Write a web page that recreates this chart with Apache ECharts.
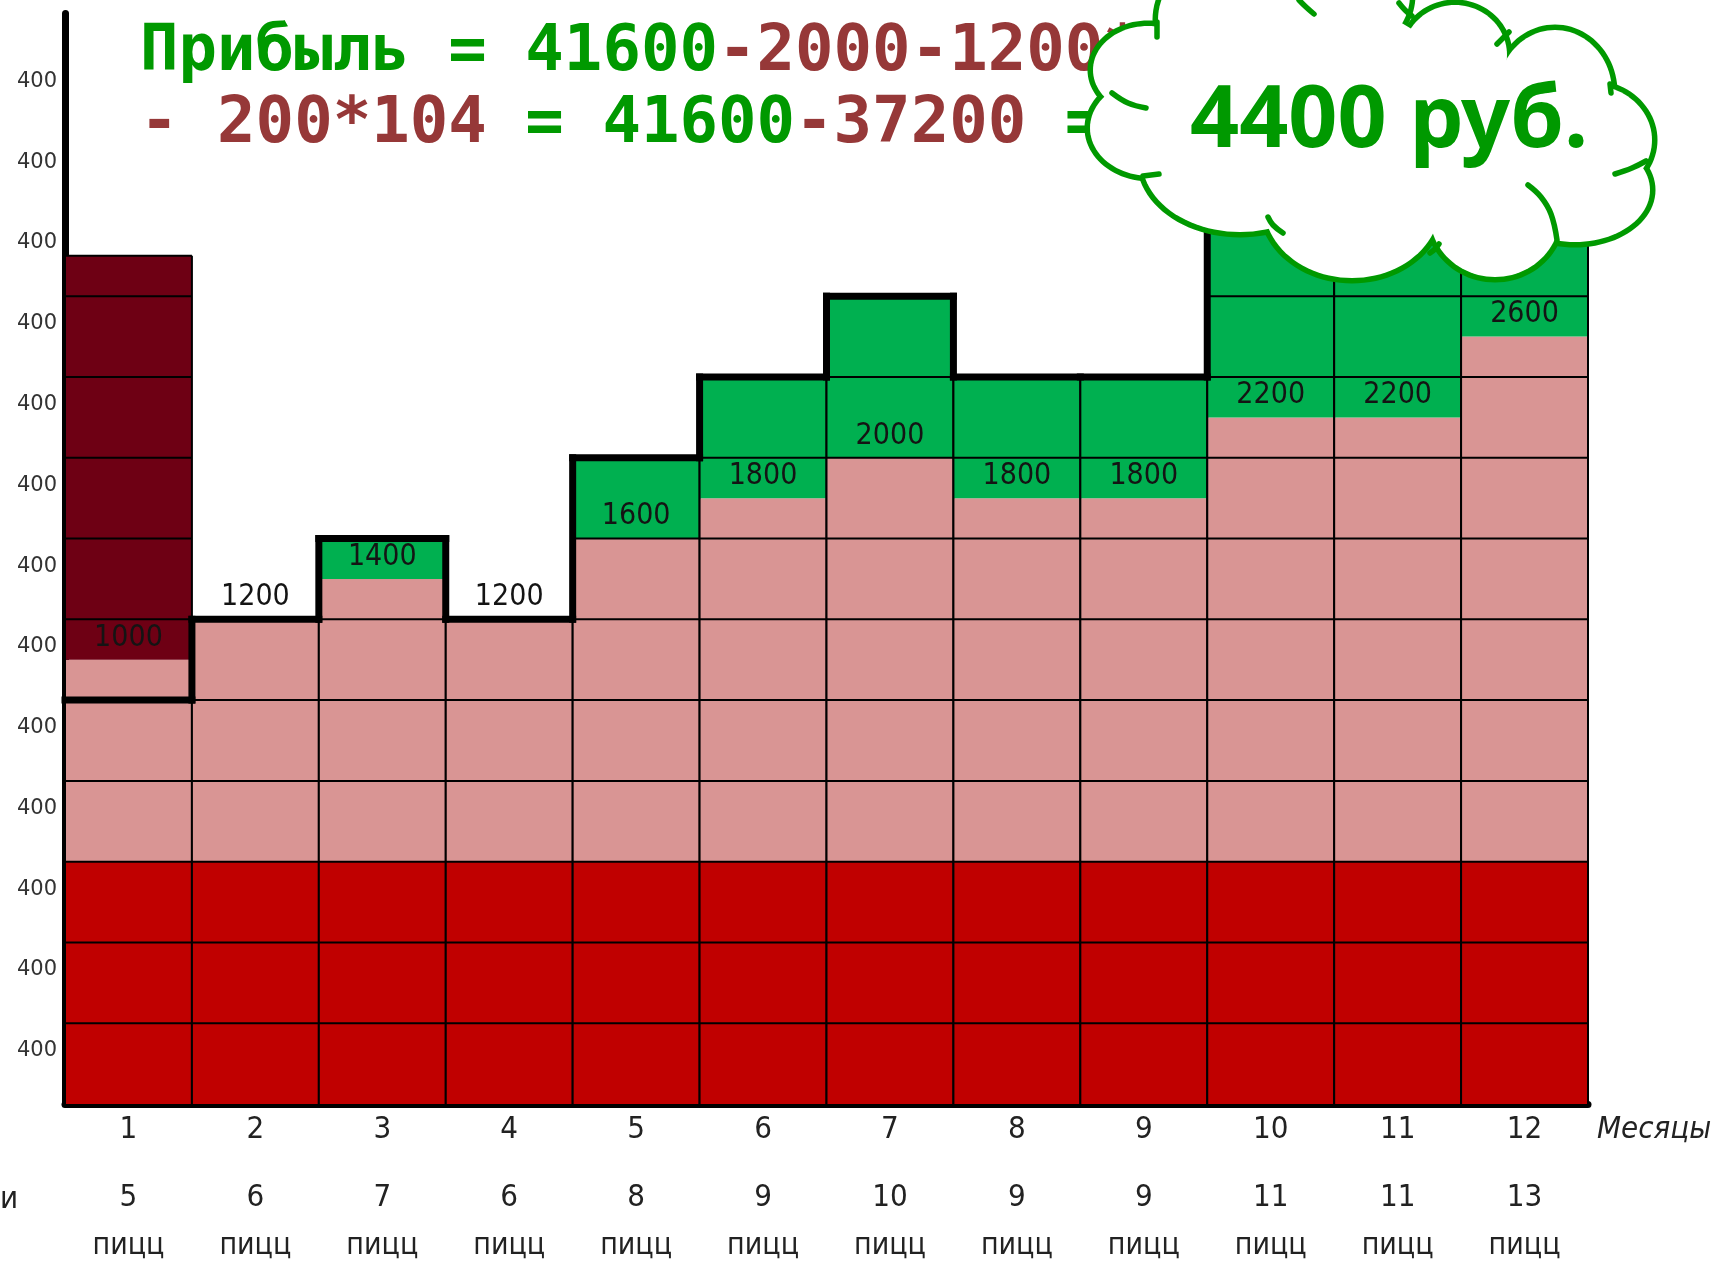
<!DOCTYPE html>
<html>
<head>
<meta charset="utf-8">
<script src="https://cdn.jsdelivr.net/npm/echarts/dist/echarts.min.js"></script>
<style>
  html, body { margin: 0; padding: 0; background: #ffffff; }
  #chart { width: 1715px; height: 1261px; }
</style>
</head>
<body>
<div id="chart"></div>
<script>
// ---------------- data ----------------
const months = ['1', '2', '3', '4', '5', '6', '7', '8', '9', '10', '11', '12'];
const pizzas = ['5', '6', '7', '6', '8', '9', '10', '9', '9', '11', '11', '13'];
const pizzaWord = 'пицц';
const fixedCost = [1200, 1200, 1200, 1200, 1200, 1200, 1200, 1200, 1200, 1200, 1200, 1200];
const variableCost = [1000, 1200, 1400, 1200, 1600, 1800, 2000, 1800, 1800, 2200, 2200, 2600];
const startupCost = [2000, 0, 0, 0, 0, 0, 0, 0, 0, 0, 0, 0];
const revenue = [2000, 2400, 2800, 2400, 3200, 3600, 4000, 3600, 3600, 4400, 4400, 5200];
const yStep = 400;
const yTickLabel = '400';
const yMax = 5400;
const titleLine1 = [['g', 'Прибыль = 41600'], ['r', '-2000-1200*12']];
const titleLine2 = [['r', '- 200*104'], ['g', ' = 41600'], ['r', '-37200'], ['g', ' =']];
const cloudText = '4400 руб.';

// ---------------- styles ----------------
const C = {
  fixed: '#c00000',
  variable: '#d99594',
  startup: '#6e0014',
  profit: '#00b050',
  titleGreen: '#009900',
  titleRed: '#963838'
};
const narrow = "'Liberation Sans Narrow', 'DejaVu Sans Condensed', 'DejaVu Sans', sans-serif";

const cellData = months.map((m, i) => [i, fixedCost[i], variableCost[i], startupCost[i], revenue[i]]);
const outlineData = months.map((m, i) => [i, revenue[i], i < months.length - 1 ? revenue[i + 1] : NaN]);

function renderCells(params, api) {
  const i = api.value(0);
  const fixed = api.value(1), variable = api.value(2), startup = api.value(3), rev = api.value(4);
  const w = api.size([1, 0])[0];
  const cx = api.coord([i, 0])[0];
  const x0 = cx - w / 2, x1 = cx + w / 2;
  const Y = v => api.coord([i, v])[1];
  const children = [];
  const band = (a, b, color) => children.push({
    type: 'rect',
    shape: { x: x0, y: Y(b), width: w, height: Y(a) - Y(b) },
    style: { fill: color }
  });
  const line = (ax, ay, bx, by) => children.push({
    type: 'line',
    shape: { x1: ax, y1: ay, x2: bx, y2: by },
    style: { stroke: '#000', lineWidth: 2 }
  });
  const costTop = fixed + variable;
  band(0, fixed, C.fixed);
  band(fixed, costTop, C.variable);
  if (rev > costTop) band(costTop, rev, C.profit);
  if (startup > 0) band(costTop, costTop + startup, C.startup);
  const top = Math.max(rev, costTop + startup);
  for (let v = yStep; v <= top; v += yStep) line(x0, Y(v), x1, Y(v));
  if (top % yStep) line(x0, Y(top), x1, Y(top));
  line(x0, Y(0), x0, Y(top));
  line(x1, Y(0), x1, Y(top));
  children.push({
    type: 'text',
    style: {
      text: String(variable),
      x: cx, y: Y(costTop) - 22,
      align: 'center', verticalAlign: 'middle',
      fill: '#141414',
      font: '30px ' + narrow
    }
  });
  return { type: 'group', children };
}

function renderOutline(params, api) {
  const i = api.value(0);
  const rev = api.value(1), next = api.value(2);
  const w = api.size([1, 0])[0];
  const cx = api.coord([i, 0])[0];
  const x0 = cx - w / 2, x1 = cx + w / 2;
  const Y = v => api.coord([i, v])[1];
  const st = { stroke: '#000', lineWidth: 7, lineCap: 'square' };
  const children = [{ type: 'line', shape: { x1: x0, y1: Y(rev), x2: x1, y2: Y(rev) }, style: st }];
  if (!isNaN(next) && next !== rev) {
    children.push({ type: 'line', shape: { x1: x1, y1: Y(rev), x2: x1, y2: Y(next) }, style: st });
  }
  return { type: 'group', children };
}

// ---------------- cloud (decoration) ----------------
const lumps = [ // [cx, cy, rx, ry]
  [1240, 20, 82, 70], [1355, -5, 55, 55], [1455, 55, 52, 50], [1555, 92, 57, 62],
  [1590, 140, 62, 55], [1575, 190, 75, 52], [1495, 215, 65, 62], [1352, 205, 88, 73],
  [1240, 160, 98, 72], [1150, 128, 60, 48], [1148, 70, 55, 44]
];
const stubs = [
  [[1157, 22], [1157, 37]],
  [[1112, 93], [1128, 103], [1146, 108]],
  [[1143, 176], [1159, 174]],
  [[1283, 233], [1273, 225], [1268, 217]],
  [[1430, 253], [1435, 249], [1439, 244]],
  [[1557, 240], [1551, 214], [1541, 197], [1528, 185]],
  [[1646, 161], [1632, 168], [1615, 174]],
  [[1610, 84], [1611, 93]],
  [[1509, 32], [1503, 38], [1497, 44]],
  [[1399, 3], [1405, 10], [1412, 16]],
  [[1299, 0], [1306, 7], [1314, 14]]
];
function ellipsePts(l) {
  const pts = [];
  for (let k = 0; k < 96; k++) {
    const t = k / 96 * Math.PI * 2;
    pts.push([l[0] + l[2] * Math.cos(t), l[1] + l[3] * Math.sin(t)]);
  }
  return pts;
}
const cloudEls = [];
lumps.forEach(l => cloudEls.push({
  type: 'polygon', z: 100, silent: true,
  shape: { points: ellipsePts(l) },
  style: { fill: '#fff', stroke: C.titleGreen, lineWidth: 11 }
}));
lumps.forEach(l => cloudEls.push({
  type: 'polygon', z: 101, silent: true,
  shape: { points: ellipsePts(l) },
  style: { fill: '#fff' }
}));
cloudEls.push({
  type: 'polygon', z: 101, silent: true,
  shape: { points: lumps.map(l => [l[0], l[1]]) },
  style: { fill: '#fff' }
});
stubs.forEach(s => cloudEls.push({
  type: 'polyline', z: 102, silent: true,
  shape: { points: s, smooth: 0.4 },
  style: { stroke: C.titleGreen, lineWidth: 5.5, lineCap: 'round', fill: null }
}));
cloudEls.push({
  type: 'text', z: 103, silent: true,
  style: {
    text: cloudText, x: 1389, y: 122, align: 'center', verticalAlign: 'middle',
    fill: C.titleGreen, font: "bold 86px 'Noto Sans', 'DejaVu Sans', sans-serif"
  }
});

const richTitle = {
  g: { fill: C.titleGreen, font: "bold 64px 'DejaVu Sans Mono', monospace" },
  r: { fill: C.titleRed, font: "bold 64px 'DejaVu Sans Mono', monospace" }
};
const toRich = parts => parts.map(p => '{' + p[0] + '|' + p[1] + '}').join('');

const chart = echarts.init(document.getElementById('chart'), null, { renderer: 'canvas' });
chart.setOption({
  backgroundColor: '#ffffff',
  animation: false,
  grid: { left: 65, right: 127, top: 13.5, bottom: 154 },
  xAxis: [
    {
      type: 'category', data: months, position: 'bottom',
      axisLine: { show: true, lineStyle: { color: '#000', width: 7 } },
      axisTick: { show: false },
      axisLabel: { margin: 10, fontSize: 31, fontFamily: narrow, color: '#222', lineHeight: 31, verticalAlign: 'top' },
      name: 'Месяцы', nameLocation: 'end', nameGap: 9,
      nameTextStyle: { fontSize: 31, fontStyle: 'italic', fontFamily: narrow, color: '#222', verticalAlign: 'top', padding: [10, 0, 0, 0] }
    },
    {
      type: 'category', data: pizzas, position: 'bottom', offset: 68,
      axisLine: { show: false }, axisTick: { show: false },
      axisLabel: { margin: 10, fontSize: 31, fontFamily: narrow, color: '#222', lineHeight: 31, verticalAlign: 'top' }
    },
    {
      type: 'category', data: months.map(() => pizzaWord), position: 'bottom', offset: 117,
      axisLine: { show: false }, axisTick: { show: false },
      axisLabel: { margin: 10, fontSize: 30, fontFamily: narrow, color: '#222', lineHeight: 30, verticalAlign: 'top' }
    }
  ],
  yAxis: {
    type: 'value', min: 0, max: yMax, interval: yStep,
    axisLine: { show: true, lineStyle: { color: '#000', width: 7 } },
    axisTick: { show: false },
    splitLine: { show: false },
    axisLabel: {
      margin: 8, fontSize: 21, fontFamily: "'DejaVu Sans', sans-serif", color: '#333',
      verticalAlign: 'top', lineHeight: 21, padding: [17, 0, 0, 0],
      formatter: v => (v > 0 && v <= yMax - yStep / 2 && v % yStep === 0) ? yTickLabel : ''
    }
  },
  series: [
    { type: 'custom', name: 'cells', data: cellData, renderItem: renderCells, z: 2, clip: false },
    { type: 'custom', name: 'revenue', data: outlineData, renderItem: renderOutline, z: 3, clip: false }
  ],
  graphic: [
    {
      type: 'text', z: 50, silent: true,
      style: { text: toRich(titleLine1), rich: richTitle, x: 140, y: 53, verticalAlign: 'middle', font: "bold 64px 'DejaVu Sans Mono', monospace" }
    },
    {
      type: 'text', z: 50, silent: true,
      style: { text: toRich(titleLine2), rich: richTitle, x: 140, y: 125, verticalAlign: 'middle', font: "bold 64px 'DejaVu Sans Mono', monospace" }
    },
    {
      type: 'text', silent: true,
      style: { text: 'и', x: 0, y: 1200, verticalAlign: 'middle', fill: '#222', font: '31px ' + narrow }
    }
  ].concat(cloudEls)
});
</script>
</body>
</html>
